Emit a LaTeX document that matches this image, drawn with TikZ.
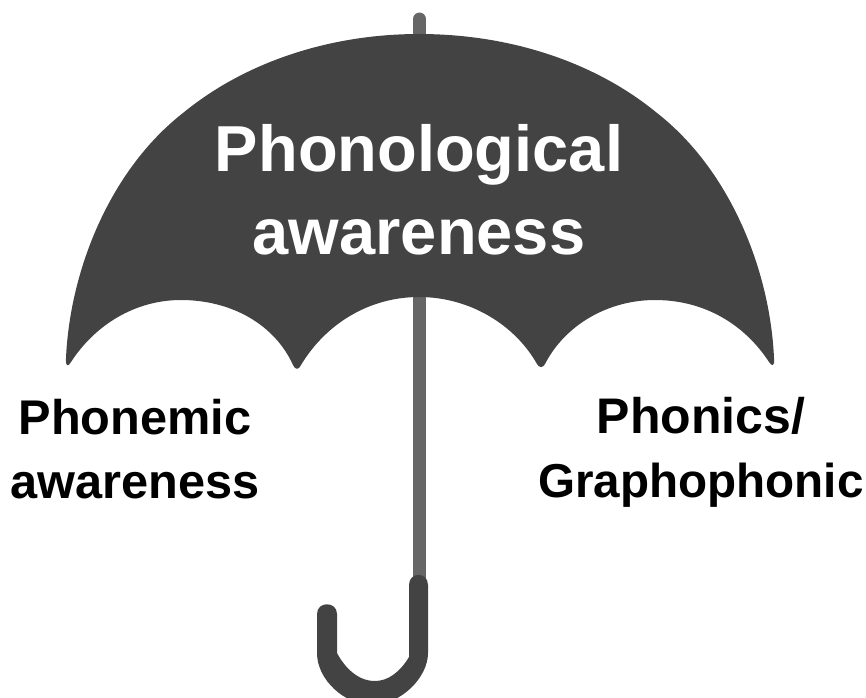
\documentclass[tikz,border=0pt]{standalone}
\usepackage{fontspec}
\setmainfont{Liberation Sans}
\definecolor{canopy}{HTML}{434343}
\definecolor{shaft}{HTML}{666666}
\tikzset{
  bigtext/.style={text=white,font=\bfseries\fontsize{65}{83}\selectfont,align=center,inner sep=0pt},
  sidetext/.style={text=black,font=\bfseries\fontsize{48.7}{64}\selectfont,align=center,inner sep=0pt}
}
\begin{document}
\begin{tikzpicture}[x=1pt,y=-1pt]
\path[use as bounding box] (0,0) rectangle (866,697);
\clip (0,0) rectangle (866,697);
% shaft
\draw[shaft,line width=13pt,line cap=round] (419.5,19) -- (419.5,590);
% canopy
\fill[canopy] (419,34)
  .. controls (330,34) and (245,62) .. (183,113)
  .. controls (110,170) and (70,270) .. (66,358)
  .. controls (65.5,367) and (68,367) .. (71,362)
  .. controls (95,325) and (135,300) .. (181,300)
  .. controls (232,300) and (275,325) .. (293,365)
  .. controls (295,370) and (299,370) .. (301,365)
  .. controls (325,325) and (368,297) .. (419,297)
  .. controls (470,297) and (515,325) .. (537,364)
  .. controls (539,368) and (543,368) .. (545,364)
  .. controls (565,325) and (608,300) .. (655,300)
  .. controls (705,300) and (745,325) .. (769,362)
  .. controls (772,367) and (775,366) .. (774,358)
  .. controls (770,270) and (730,170) .. (657,113)
  .. controls (595,62) and (510,34) .. (419,34) -- cycle;
% handle
\fill[canopy] (409,585)
  .. controls (409,571.5) and (428,571.5) .. (428,585)
  -- (428,653)
  .. controls (428,678) and (400,705) .. (372,705)
  .. controls (345,705) and (317,680) .. (317,653)
  -- (317,614)
  .. controls (317,601) and (337,601) .. (337,614)
  -- (337,653)
  .. controls (345,668) and (358,681) .. (375,681)
  .. controls (388,681) and (400,672) .. (409,657)
  -- cycle;
% labels
\node[bigtext] (title) at (419,190) {Phonological\\awareness};
\node[sidetext] (left) at (135,449) {Phonemic\\awareness};
\node[sidetext] (right) at (701,452) {\fontsize{50}{64}\selectfont Phonics/\\\fontsize{47.6}{64}\selectfont Graphophonic};
\end{tikzpicture}
\end{document}
